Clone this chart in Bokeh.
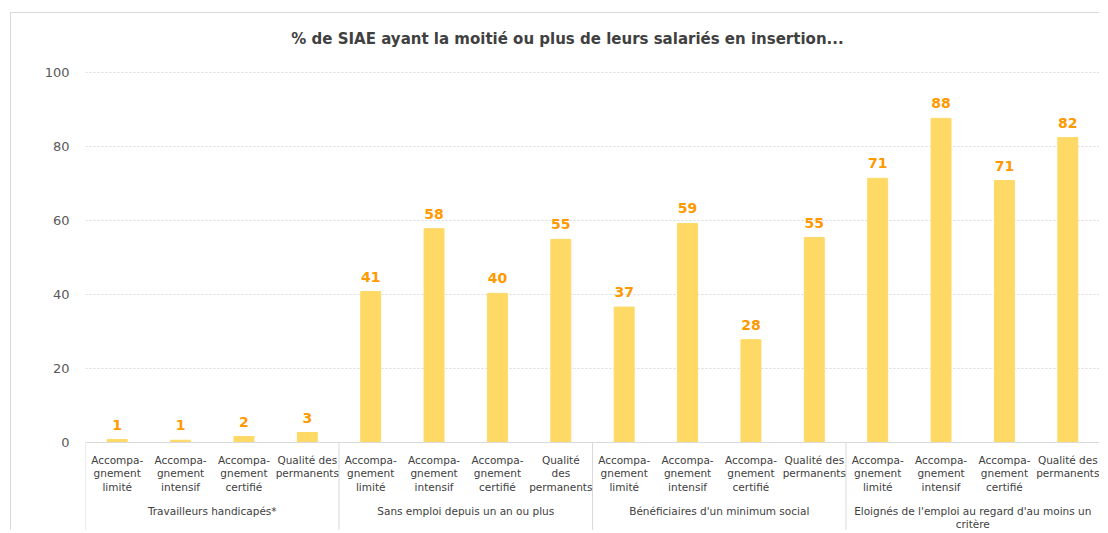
import numpy as np
from bokeh.plotting import figure
from bokeh.models import ColumnDataSource, FixedTicker, Range1d, Span
from bokeh.core.properties import value
from bokeh.embed import file_html
from bokeh.resources import INLINE

# ---------------- data ----------------
groups = [
    "Travailleurs handicapés*",
    "Sans emploi depuis un an ou plus",
    "Bénéficiaires d'un minimum social",
    "Eloignés de l'emploi au regard d'au moins un\ncritère",
]
sub_labels = [
    "Accompa-\ngnement\nlimité", "Accompa-\ngnement\nintensif", "Accompa-\ngnement\ncertifié", "Qualité des\npermanents",
    "Accompa-\ngnement\nlimité", "Accompa-\ngnement\nintensif", "Accompa-\ngnement\ncertifié", "Qualité\ndes\npermanents",
    "Accompa-\ngnement\nlimité", "Accompa-\ngnement\nintensif", "Accompa-\ngnement\ncertifié", "Qualité des\npermanents",
    "Accompa-\ngnement\nlimité", "Accompa-\ngnement\nintensif", "Accompa-\ngnement\ncertifié", "Qualité des\npermanents",
]
values = [0.8, 0.6, 1.6, 2.7,
          40.8, 57.8, 40.3, 54.9,
          36.6, 59.2, 27.8, 55.4,
          71.4, 87.6, 70.8, 82.4]
y_ticks = [0, 20, 40, 60, 80, 100]
title_text = "% de SIAE ayant la moitié ou plus de leurs salariés en insertion..."

# ---------------- layout ----------------
n = len(values)
per_group = n // len(groups)
FONT = "DejaVu Sans"
px_per_unit = 3.7            # vertical scale (pixels per %)
y0_px, y100_px = 442, 72     # page y of 0 and 100
top_px, bottom_px = 13, 531  # page y of frame top / bottom

y_start = -(bottom_px - y0_px) / px_per_unit
y_end = 100 + (y100_px - top_px) / px_per_unit

xs = np.arange(n) + 0.5
src = ColumnDataSource(dict(
    x=xs, v=values, lab=[f"{v:.0f}" for v in values], sub=sub_labels,
))

p = figure(width=1089, height=bottom_px - top_px,
           x_range=Range1d(0, n), y_range=Range1d(y_start, y_end),
           output_backend="svg", toolbar_location=None,
           x_axis_location=None,
           min_border_left=74, min_border_right=1,
           min_border_top=0, min_border_bottom=0,
           outline_line_color=None, background_fill_color="white")
p.styles = {"border-top": "1px solid #D9D9D9", "border-left": "1px solid #D9D9D9",
            "margin-left": "10px", "margin-top": "12px"}

# y axis
p.yaxis.ticker = FixedTicker(ticks=y_ticks)
p.yaxis.axis_line_color = None
p.yaxis.major_tick_line_color = None
p.yaxis.minor_tick_line_color = None
p.yaxis.major_label_standoff = 10
p.yaxis.major_label_text_font = FONT
p.yaxis.major_label_text_font_size = "13px"
p.yaxis.major_label_text_color = "#595959"

p.xgrid.grid_line_color = None
p.ygrid.ticker = FixedTicker(ticks=y_ticks[1:])
p.ygrid.grid_line_color = "#D9D9D9"
p.ygrid.grid_line_dash = "2 2"

# bars
p.vbar(x="x", top="v", width=0.315, source=src,
       fill_color="#FFD966", line_color="#FFD966")

# value labels
p.text(x="x", y="v", text="lab", source=src,
       text_align="center", text_baseline="bottom", y_offset=-10,
       text_color="#FF9900", text_font=value(FONT), text_font_style="bold",
       text_font_size="14px")

# category axis line & group separators
p.add_layout(Span(location=0, dimension="width", line_color="#D9D9D9", line_width=1))
bounds = list(range(0, n + 1, per_group))
p.segment(x0=bounds, y0=[0] * len(bounds), x1=bounds, y1=[y_start] * len(bounds),
          line_color="#D9D9D9", line_width=1)

# sub-category labels
p.text(x="x", y=0, text="sub", source=src,
       text_align="center", text_baseline="top", y_offset=11,
       text_color="#404040", text_font=value(FONT), text_font_size="10.5px",
       text_line_height=1.15)

# group labels
gx = [per_group * i + per_group / 2 for i in range(len(groups))]
p.text(x=gx, y=[0] * len(groups), text=groups,
       text_align="center", text_baseline="top", y_offset=62,
       text_color="#404040", text_font=value(FONT), text_font_size="10.5px",
       text_line_height=1.15)

# title
title_x = (567 - 85) / ((1099 - 85) / n)
title_y = (y0_px - 38) / px_per_unit
p.text(x=[title_x], y=[title_y], text=[title_text],
       text_align="center", text_baseline="middle",
       text_color="#404040", text_font=value(FONT), text_font_style="bold",
       text_font_size="15px")

open("out.html", "w").write(file_html(p, INLINE))
